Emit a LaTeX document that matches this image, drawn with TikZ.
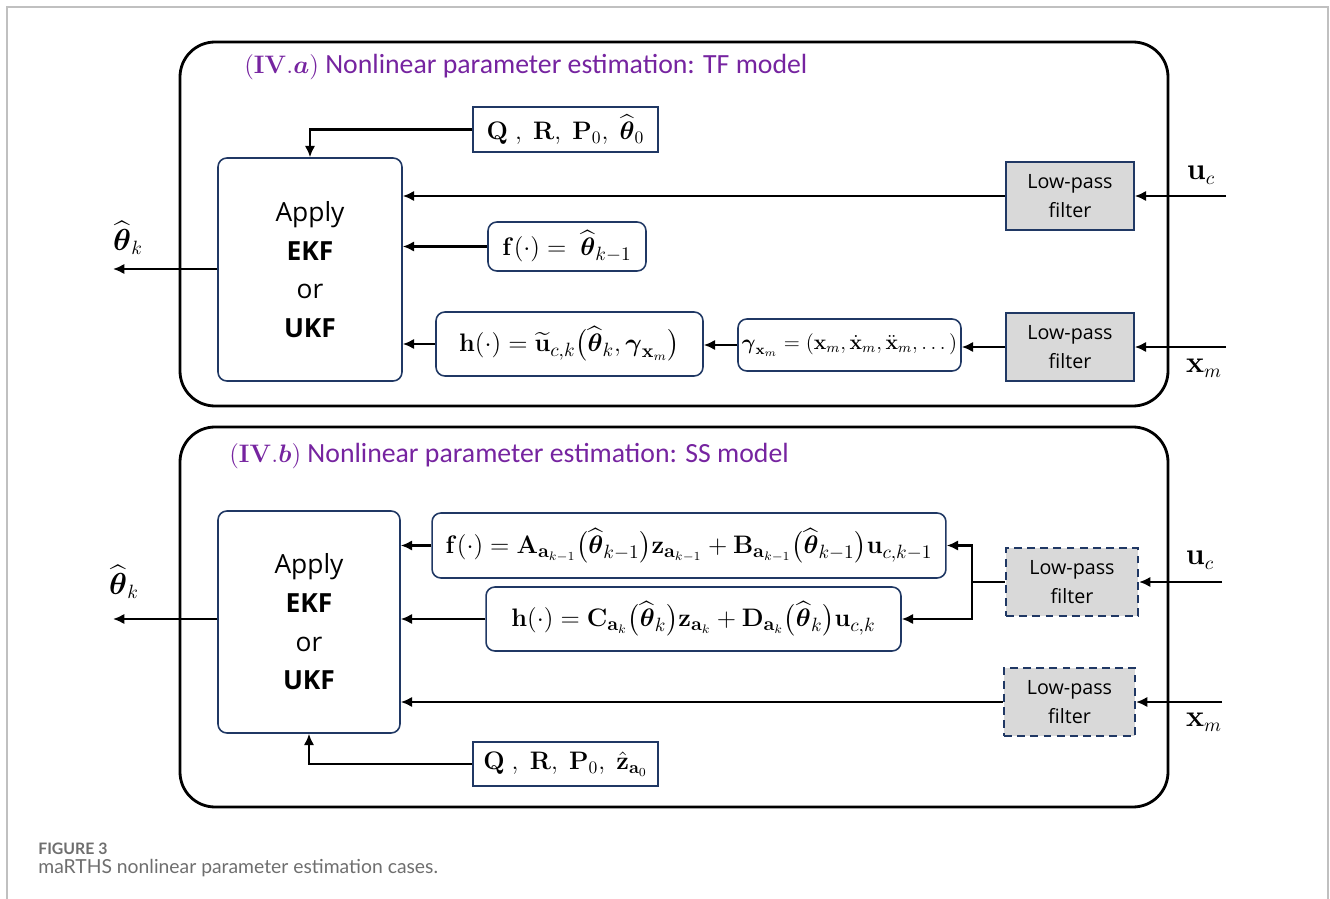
\documentclass[tikz,border=0pt]{standalone}
\usepackage{amsmath,amssymb}
\usepackage[no-math]{fontspec}
\setmainfont{Open Sans}
\newfontfamily\titlefont{Carlito}
\newfontfamily\capfont{Lato}
\usetikzlibrary{arrows.meta}
\definecolor{boxnavy}{RGB}{32,56,100}
\definecolor{headpurple}{RGB}{118,36,160}
\definecolor{filtergray}{RGB}{217,217,217}
\definecolor{framegray}{RGB}{192,192,192}
\definecolor{capgray}{RGB}{110,110,110}

\begin{document}
\begin{tikzpicture}[x=0.02cm,y=-0.02cm,>={Latex[length=6.5pt,width=6pt]}]
\tikzset{
  panel/.style={draw=black,line width=1.6pt,rounded corners=0.7cm},
  head/.style={anchor=west,font=\titlefont\fontsize{15.8}{18}\selectfont,text=headpurple,inner sep=0pt},
  kf/.style={draw=boxnavy,line width=0.9pt,rounded corners=5pt,minimum width=3.68cm,minimum height=4.46cm,align=center,font=\fontsize{15}{22}\selectfont},
  eq/.style={draw=boxnavy,line width=0.9pt,rounded corners=5pt,inner sep=2pt,font=\fontsize{15}{18}\selectfont},
  init/.style={draw=boxnavy,line width=0.9pt,minimum width=3.7cm,minimum height=0.9cm,font=\fontsize{14}{17}\selectfont},
  lpf/.style={draw=boxnavy,line width=0.9pt,fill=filtergray,minimum width=2.56cm,minimum height=1.36cm,align=center,font=\fontsize{11.2}{16.4}\selectfont},
  lpfd/.style={lpf,dash pattern=on 4.5pt off 3pt,line width=1.2pt},
  sig/.style={font=\fontsize{16}{18}\selectfont,inner sep=0pt},
  arr/.style={->,draw=black,line width=1.4pt}
}
\useasboundingbox (0,0) rectangle (1330,899);
\draw[framegray,line width=0.8pt] (7,899) -- (7,7) -- (1328,7) -- (1328,899);

% panel (IV.a): TF model
\draw[panel] (180,42) rectangle (1168,406);
\node[head] (headA) at (244,67) {$(\mathbf{IV}.\boldsymbol{a})$ Nonlinear parameter estimation: TF model};
\node[kf] (ekfA) at (310,269.5) {Apply\\\textbf{EKF}\\or\\\textbf{UKF}};
\node[init] (initA) at (565.5,129.5) {$\mathbf{Q}\;,\;\mathbf{R},\;\mathbf{P}_0,\;\widehat{\boldsymbol{\theta}}_0$};
\node[lpf] (lpfUa) at (1070,196) {Low-pass\\filter};
\node[lpf] (lpfXa) at (1070,347) {Low-pass\\filter};
\node[eq,minimum width=3.16cm,minimum height=0.98cm] (fA) at (567,246.5) {$\mathbf{f}(\cdot) =\;\widehat{\boldsymbol{\theta}}_{k-1}$};
\node[eq,minimum width=5.34cm,minimum height=1.28cm] (hA) at (569.5,344) {$\mathbf{h}(\cdot) = \widetilde{\mathbf{u}}_{c,k}\bigl(\widehat{\boldsymbol{\theta}}_k,\boldsymbol{\gamma}_{\mathbf{x}_m}\bigr)$};
\node[eq,minimum width=4.46cm,minimum height=1.04cm,font=\fontsize{11.5}{14}\selectfont] (gA) at (849.5,345) {$\boldsymbol{\gamma}_{\mathbf{x}_m} = (\mathbf{x}_m,\dot{\mathbf{x}}_m,\ddot{\mathbf{x}}_m,\dots)$};
\coordinate (ucA) at (1226,196);
\coordinate (xmA) at (1226,347);
\coordinate (thA) at (113,269);
\node[sig] (ucAlab) at (1201,175) {$\mathbf{u}_c$};
\node[sig] (xmAlab) at (1204,368) {$\mathbf{x}_m$};
\node[sig] (thAlab) at (128,238) {$\widehat{\boldsymbol{\theta}}_k$};
\draw[arr] (initA.west) -| (ekfA.north);
\draw[arr] (lpfUa.west) -- (ekfA.east |- lpfUa.west);
\draw[arr] (fA.west) -- (ekfA.east |- fA.west);
\draw[arr] (hA.west) -- (ekfA.east |- hA.west);
\draw[arr] (gA.west) -- (hA.east |- gA.west);
\draw[arr] (lpfXa.west) -- (gA.east |- lpfXa.west);
\draw[arr] (ucA) -- (lpfUa.east);
\draw[arr] (xmA) -- (lpfXa.east);
\draw[arr] (ekfA.west |- thA) -- (thA);

% panel (IV.b): SS model
\draw[panel] (180,427) rectangle (1168,807);
\node[head] (headB) at (229,456) {$(\mathbf{IV}.\boldsymbol{b})$ Nonlinear parameter estimation: SS model};
\node[kf,minimum width=3.64cm,minimum height=4.44cm] (ekfB) at (309,622) {Apply\\\textbf{EKF}\\or\\\textbf{UKF}};
\node[eq,minimum width=10.28cm,minimum height=1.3cm] (fB) at (689,545.5) {$\mathbf{f}(\cdot) = \mathbf{A}_{\mathbf{a}_{k-1}}\bigl(\widehat{\boldsymbol{\theta}}_{k-1}\bigr)\mathbf{z}_{\mathbf{a}_{k-1}} + \mathbf{B}_{\mathbf{a}_{k-1}}\bigl(\widehat{\boldsymbol{\theta}}_{k-1}\bigr)\mathbf{u}_{c,k-1}$};
\node[eq,minimum width=8.3cm,minimum height=1.28cm] (hB) at (693.5,619) {$\mathbf{h}(\cdot) = \mathbf{C}_{\mathbf{a}_k}\bigl(\widehat{\boldsymbol{\theta}}_k\bigr)\mathbf{z}_{\mathbf{a}_k} + \mathbf{D}_{\mathbf{a}_k}\bigl(\widehat{\boldsymbol{\theta}}_k\bigr)\mathbf{u}_{c,k}$};
\node[lpfd,minimum width=2.64cm] (lpfUb) at (1072,582) {Low-pass\\filter};
\node[lpfd,minimum width=2.62cm] (lpfXb) at (1069.5,702) {Low-pass\\filter};
\node[init,minimum height=0.88cm] (initB) at (565.5,764) {$\mathbf{Q}\;,\;\mathbf{R},\;\mathbf{P}_0,\;\hat{\mathbf{z}}_{\mathbf{a}_0}$};
\coordinate (split) at (972,582);
\coordinate (ucB) at (1222,582);
\coordinate (xmB) at (1222,702);
\coordinate (thB) at (113,619);
\node[sig] (ucBlab) at (1200,560) {$\mathbf{u}_c$};
\node[sig] (xmBlab) at (1204,722) {$\mathbf{x}_m$};
\node[sig] (thBlab) at (124,582) {$\widehat{\boldsymbol{\theta}}_k$};
\draw[arr] (fB.west) -- (ekfB.east |- fB.west);
\draw[arr] (hB.west) -- (ekfB.east |- hB.west);
\draw[line width=1.4pt] (lpfUb.west) -- (split);
\draw[arr] (split) |- (fB.east);
\draw[arr] (split) |- (hB.east);
\draw[arr] (lpfXb.west) -- (ekfB.east |- lpfXb.west);
\draw[arr] (initB.west) -| (ekfB.south);
\draw[arr] (ucB) -- (lpfUb.east);
\draw[arr] (xmB) -- (lpfXb.east);
\draw[arr] (ekfB.west |- thB) -- (thB);

% caption
\node[anchor=west,inner sep=0pt,font=\capfont\bfseries\fontsize{9}{11}\selectfont,text=capgray] (capnum) at (38,849) {FIGURE 3};
\node[anchor=west,inner sep=0pt,font=\capfont\fontsize{11}{13}\selectfont,text=capgray] (captext) at (38,868) {maRTHS nonlinear parameter estimation cases.};
\end{tikzpicture}
\end{document}
